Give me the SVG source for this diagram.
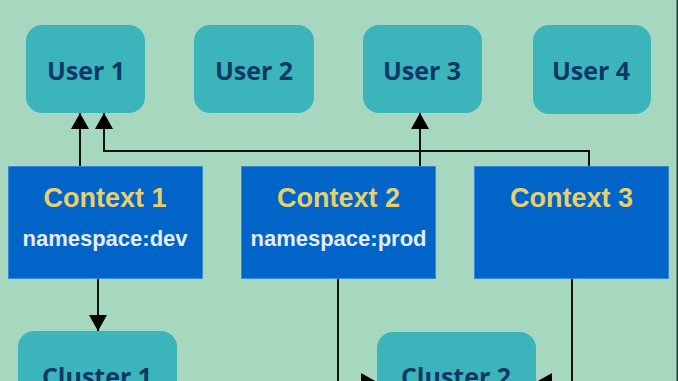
<svg xmlns="http://www.w3.org/2000/svg" width="678" height="381" viewBox="0 0 678 381">
<defs>
<style>
.user{fill:#3bb4bc;}
.ulabel{font-family:"Open Sans","DejaVu Sans",sans-serif;font-weight:bold;font-size:25px;fill:#0f3866;text-anchor:middle;}
.ctx{fill:#0064c8;stroke:#3a88d2;stroke-width:1;}
.ctitle{font-family:"Liberation Sans",Arial,sans-serif;font-weight:bold;font-size:27px;fill:#e7d06b;text-anchor:middle;}
.cns{font-family:"Liberation Sans",Arial,sans-serif;font-weight:bold;font-size:22px;fill:#e6ecf5;text-anchor:middle;}
.conn{fill:none;stroke:#111;stroke-width:2;}
</style>
<marker id="arrow" viewBox="0 0 16 18" refX="16" refY="9" markerWidth="16" markerHeight="18" markerUnits="userSpaceOnUse" orient="auto">
<path d="M0,0 L16,9 L0,18 z" fill="#000"/>
</marker>
</defs>
<rect x="0" y="0" width="678" height="381" fill="#a6d8bf"/>
<rect x="676.5" y="0" width="1.5" height="381" fill="#2a3a33"/>

<g id="connectors">
<path class="conn" d="M80,166 V113" marker-end="url(#arrow)"/>
<path class="conn" d="M589,166 V151 H104 V113" marker-end="url(#arrow)"/>
<path class="conn" d="M420,166 V113" marker-end="url(#arrow)"/>
<path class="conn" d="M98,278 V331" marker-end="url(#arrow)"/>
<path class="conn" d="M338,278 V382 H377" marker-end="url(#arrow)"/>
<path class="conn" d="M572,278 V382 H536" marker-end="url(#arrow)"/>
</g>

<g id="user1"><rect class="user" x="26" y="25" width="119" height="88" rx="16"/><text class="ulabel" x="86" y="80">User 1</text></g>
<g id="user2"><rect class="user" x="194" y="25" width="120" height="88" rx="16"/><text class="ulabel" x="254" y="80">User 2</text></g>
<g id="user3"><rect class="user" x="363" y="25" width="119" height="88" rx="16"/><text class="ulabel" x="422" y="80">User 3</text></g>
<g id="user4"><rect class="user" x="533" y="25" width="118" height="89" rx="16"/><text class="ulabel" x="591" y="80">User 4</text></g>

<g id="context1"><rect class="ctx" x="8.5" y="166.5" width="194" height="112"/><text class="ctitle" x="105" y="207">Context 1</text><text class="cns" x="105" y="246">namespace:dev</text></g>
<g id="context2"><rect class="ctx" x="241.5" y="166.5" width="194" height="112"/><text class="ctitle" x="338.5" y="207">Context 2</text><text class="cns" x="338.5" y="246">namespace:prod</text></g>
<g id="context3"><rect class="ctx" x="474.5" y="166.5" width="194" height="112"/><text class="ctitle" x="571.5" y="207">Context 3</text></g>

<g id="cluster1"><rect class="user" x="18" y="331" width="159" height="90" rx="16"/><text class="ulabel" x="97" y="386">Cluster 1</text></g>
<g id="cluster2"><rect class="user" x="377" y="332" width="159" height="90" rx="16"/><text class="ulabel" x="456" y="386">Cluster 2</text></g>
</svg>
